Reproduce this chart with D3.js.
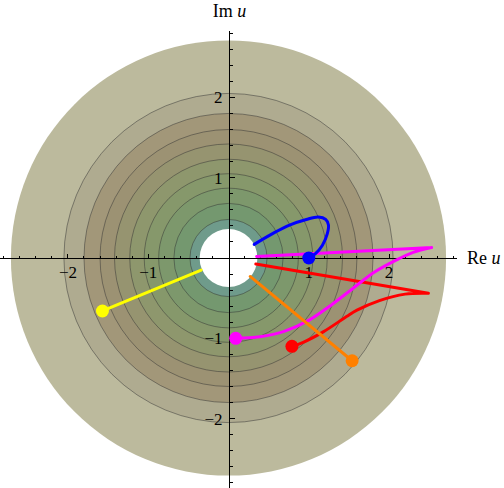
<!DOCTYPE html>
<html><head><meta charset="utf-8">
<script src="https://cdn.jsdelivr.net/npm/d3@7"></script>
<style>body{margin:0;background:#fff}svg{display:block}</style>
</head><body>
<script>
// ---- data ----
const bandEdges = [0.36, 0.48, 0.68, 0.87, 1.05, 1.23, 1.42, 1.6, 1.8, 2.05, 2.71];
const bandColors = ["#6f9b8b", "#74986f", "#7d986c", "#86986b", "#8e976d", "#969470", "#9c9273", "#a29779", "#afab90", "#bcba9d"];
const contourLevels = [0.48, 0.68, 0.87, 1.05, 1.23, 1.42, 1.6, 1.8, 2.05];
const holeRadius = 0.36;
const tickValues = [-2, -1, 1, 2];
const tickLabels = ["\u22122", "\u22121", "1", "2"];

const blueCurve = [[0.32,0.17],[0.56,0.31],[0.76,0.41],[0.97,0.48],[1.12,0.51],[1.21,0.48],[1.245,0.41],[1.23,0.30],[1.17,0.16],[1.08,0.05],[1.0,0.0]];
const magentaStraight = [[0.35,0.02],[2.53,0.13]];
const magentaCurve = [[2.53,0.13],[2.3,0.07],[2.1,-0.02],[1.81,-0.18],[1.56,-0.37],[1.26,-0.6],[1.01,-0.77],[0.7,-0.91],[0.39,-0.98],[0.09,-1.0]];
const redStraight = [[0.34,-0.075],[2.49,-0.44]];
const redCurve = [[2.49,-0.44],[2.2,-0.45],[1.88,-0.53],[1.6,-0.65],[1.47,-0.73],[1.18,-0.92],[0.93,-1.05],[0.79,-1.1]];
const orangeLine = [[0.27,-0.23],[1.54,-1.28]];
const yellowLine = [[-0.34,-0.15],[-1.57,-0.66]];

const W = 504, H = 488;
const x = d3.scaleLinear().domain([-2.846, 2.846]).range([0, 457]);
const y = d3.scaleLinear().domain([2.84, -2.84]).range([30, 486]);
const k = x(1) - x(0);

const svg = d3.select("body").append("svg").attr("width", W).attr("height", H);

// bands (outer to inner)
for (let i = bandColors.length - 1; i >= 0; i--) {
  svg.append("circle").attr("cx", x(0)).attr("cy", y(0)).attr("r", bandEdges[i+1]*k).attr("fill", bandColors[i]);
}
svg.selectAll("circle.ct").data(contourLevels).enter().append("circle").attr("class","ct")
  .attr("cx", x(0)).attr("cy", y(0)).attr("r", d => d*k)
  .attr("fill","none").attr("stroke","#333").attr("stroke-opacity",0.55).attr("stroke-width",0.9);
svg.append("circle").attr("cx", x(0)).attr("cy", y(0)).attr("r", holeRadius*k).attr("fill","#fff");

// axes
const ax = svg.append("g").attr("stroke","#000").attr("shape-rendering","crispEdges");
ax.append("line").attr("x1", 0).attr("x2", 457).attr("y1", Math.round(y(0))+0.5).attr("y2", Math.round(y(0))+0.5);
ax.append("line").attr("x1", Math.round(x(0))+0.5).attr("x2", Math.round(x(0))+0.5).attr("y1", 31).attr("y2", 488);
const minor = d3.range(-14, 15).filter(d => d !== 0).map(d => d/5);
const y0 = Math.round(y(0))+0.5, x0 = Math.round(x(0))+0.5;
minor.forEach(v => {
  const major = Math.abs(v - Math.round(v)) < 1e-9;
  const len = major ? 5 : 3;
  ax.append("line").attr("x1", x(v)).attr("x2", x(v)).attr("y1", y0).attr("y2", y0 - len);
  ax.append("line").attr("y1", y(v)).attr("y2", y(v)).attr("x1", x0).attr("x2", x0 + len);
});

const font = "'Liberation Serif', 'Times New Roman', serif";
tickValues.forEach((v, i) => {
  svg.append("text").attr("x", x(v)).attr("y", 278).attr("text-anchor","middle")
    .attr("font-family", font).attr("font-size", 17).text(tickLabels[i]);
  svg.append("text").attr("x", x0 - 7).attr("y", y(v) + 6).attr("text-anchor","end")
    .attr("font-family", font).attr("font-size", 17).text(tickLabels[i]);
});
const imT = svg.append("text").attr("x", x0).attr("y", 17).attr("text-anchor","middle")
  .attr("font-family", font).attr("font-size", 18);
imT.append("tspan").text("Im ");
imT.append("tspan").attr("font-style","italic").text("u");
const reT = svg.append("text").attr("x", 467).attr("y", 264)
  .attr("font-family", font).attr("font-size", 18);
reT.append("tspan").text("Re ");
reT.append("tspan").attr("font-style","italic").text("u");

// curves
const lin = d3.line().x(d => x(d[0])).y(d => y(d[1]));
const smooth = d3.line().x(d => x(d[0])).y(d => y(d[1])).curve(d3.curveCatmullRom.alpha(0.5));
function draw(path, color) {
  svg.append("path").attr("d", path).attr("fill","none").attr("stroke", color)
    .attr("stroke-width", 3).attr("stroke-linecap","round").attr("stroke-linejoin","round");
}
function dot(p, color) {
  svg.append("circle").attr("cx", x(p[0])).attr("cy", y(p[1])).attr("r", 6.5).attr("fill", color);
}
draw(lin(redStraight) + smooth(redCurve), "#ff0000");
dot(redCurve[redCurve.length-1], "#ff0000");
draw(lin(magentaStraight) + smooth(magentaCurve), "#ff00ff");
dot(magentaCurve[magentaCurve.length-1], "#ff00ff");
draw(lin(orangeLine), "#ff8000");
dot(orangeLine[1], "#ff8000");
draw(lin(yellowLine), "#ffff00");
dot(yellowLine[1], "#ffff00");
draw(smooth(blueCurve), "#0000ff");
dot(blueCurve[blueCurve.length-1], "#0000ff");
</script>
</body></html>
